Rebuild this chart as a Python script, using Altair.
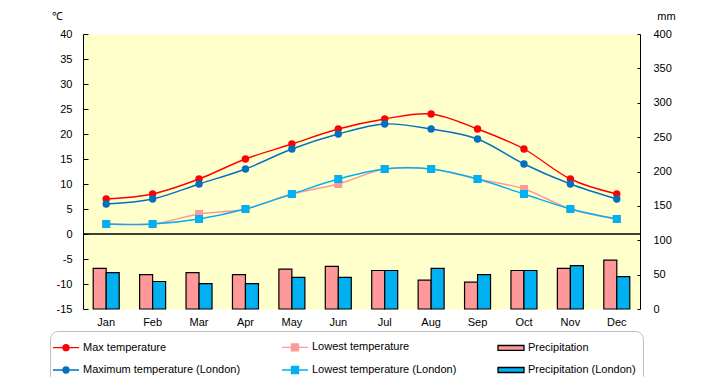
import altair as alt
import pandas as pd

FONT = "Liberation Sans"

months = ["Jan", "Feb", "Mar", "Apr", "May", "Jun", "Jul", "Aug", "Sep", "Oct", "Nov", "Dec"]
max_temp = [7, 8, 11, 15, 18, 21, 23, 24, 21, 17, 11, 8]
min_temp = [2, 2, 4, 5, 8, 10, 13, 13, 11, 9, 5, 3]
max_temp_london = [6, 7, 10, 13, 17, 20, 22, 21, 19, 14, 10, 7]
min_temp_london = [2, 2, 3, 5, 8, 11, 13, 13, 11, 8, 5, 3]
precip = [59, 50, 53, 50, 58, 62, 56, 42, 39, 56, 59, 71]
precip_london = [53, 40, 37, 37, 46, 46, 56, 59, 50, 56, 63, 47]

series_names = ["Max temperature", "Lowest temperature", "Precipitation",
                "Maximum temperature (London)", "Lowest temperature (London)", "Precipitation (London)"]
series_colors = ["#FF0000", "#FF9999", "#FF9999", "#0070C0", "#00B0F0", "#00B0F0"]
legend_strokes = ["#FF0000", "#FF9999", "#000000", "#0070C0", "#00B0F0", "#000000"]
series_values = [max_temp, min_temp, precip, max_temp_london, min_temp_london, precip_london]

CIRCLE_SYM = "M-1.625,0H1.625M-0.375,0A0.375,0.375 0 1,0 0.375,0A0.375,0.375 0 1,0 -0.375,0"
SQUARE_SYM = "M-1.625,0H1.625M-0.44,-0.44H0.44V0.44H-0.44Z"
BAR_SYM = "M-1.625,-0.31H1.625V0.31H-1.625Z"
legend_shapes = [CIRCLE_SYM, SQUARE_SYM, BAR_SYM, CIRCLE_SYM, SQUARE_SYM, BAR_SYM]

rows = []
for name, vals in zip(series_names, series_values):
    for m, v in zip(months, vals):
        rows.append({"month": m, "series": name, "value": v})
df = pd.DataFrame(rows)

color_scale = alt.Scale(domain=series_names, range=series_colors)
color_enc = alt.Color("series:N", scale=color_scale, legend=None)

legend = alt.Legend(
    title=None, orient="none", legendX=-33, legendY=297,
    direction="horizontal", columns=3, columnPadding=38, rowPadding=7,
    gridAlign="each", symbolSize=256, labelOffset=8, labelFont=FONT,
    labelFontSize=11, labelColor="black", labelLimit=300, padding=7,
    strokeColor="#BFBFBF", cornerRadius=8, fillColor="white",
    symbolOpacity=1, symbolStrokeWidth=1.3,
)

x_enc = alt.X("month:N", sort=months,
              scale=alt.Scale(paddingInner=0.44, paddingOuter=0.22),
              axis=alt.Axis(title=None, domain=False, ticks=False, labelAngle=0,
                            labelPadding=7, labelFontSize=11, labelFont=FONT,
                            labelColor="black"))

left_axis = alt.Axis(orient="left", values=list(range(-15, 41, 5)), title="℃",
                     titleAngle=0, titleX=-26, titleY=-18, titleAlign="center",
                     titleBaseline="middle", titleFontWeight="normal", titleFontSize=11,
                     titleFont=FONT, titleColor="black", grid=False, domainColor="black",
                     tickColor="black", tickSize={"expr": "-5"}, labelPadding=16,
                     labelFontSize=11, labelFont=FONT, labelColor="black",
                     labelExpr="'' + datum.value")

right_axis = alt.Axis(orient="right", values=list(range(0, 401, 50)), title="mm",
                      titleAngle=0, titleX=26, titleY=-18, titleAlign="center",
                      titleBaseline="middle", titleFontWeight="normal", titleFontSize=11,
                      titleFont=FONT, titleColor="black", grid=False, domainColor="black",
                      tickColor="black", tickSize={"expr": "-3"}, labelPadding=16,
                      labelFontSize=11, labelFont=FONT, labelColor="black")

temp_scale = alt.Scale(domain=[-15, 40], nice=False, zero=False)
temp_y = alt.Y("value:Q", scale=temp_scale, axis=left_axis)

# invisible layer that only carries the legend
legend_layer = alt.Chart(df).transform_filter("datum.value < -1000").mark_point(
    filled=True, opacity=1).encode(
    x=x_enc,
    fill=alt.Fill("series:N", scale=alt.Scale(domain=series_names, range=series_colors), legend=legend),
    stroke=alt.Stroke("series:N", scale=alt.Scale(domain=series_names, range=legend_strokes), legend=legend),
    shape=alt.Shape("series:N", scale=alt.Scale(domain=series_names, range=legend_shapes), legend=legend),
)

temp_layers = []
for name in ["Max temperature", "Lowest temperature",
             "Maximum temperature (London)", "Lowest temperature (London)"]:
    base = alt.Chart(df).transform_filter(alt.datum.series == name)
    temp_layers.append(
        base.mark_line(interpolate="cardinal", strokeWidth=1.4).encode(
            x=x_enc, y=temp_y, color=color_enc))
    if name.startswith("Lowest"):
        pts = base.mark_square(size=64, opacity=1)
    else:
        pts = base.mark_circle(size=55, opacity=1)
    temp_layers.append(pts.encode(x=x_enc, y=temp_y, color=color_enc))

zero_df = pd.DataFrame({"z": [0]})
zero_rule = alt.Chart(zero_df).mark_rule(color="black", strokeWidth=1.5).encode(
    y=alt.Y("z:Q", scale=temp_scale, axis=left_axis))

temp_chart = alt.layer(zero_rule, *temp_layers)

bars = alt.Chart(df).transform_filter(
    alt.FieldOneOfPredicate(field="series", oneOf=["Precipitation", "Precipitation (London)"])
).mark_bar(stroke="black", strokeWidth=1.2, opacity=1).encode(
    x=x_enc,
    xOffset=alt.XOffset("series:N", sort=["Precipitation", "Precipitation (London)"]),
    y=alt.Y("value:Q", scale=alt.Scale(domain=[0, 400], nice=False), axis=right_axis),
    color=color_enc,
)

chart = alt.layer(legend_layer, bars, temp_chart).resolve_scale(y="independent").properties(
    width=557, height=275,
    padding={"left": 75, "top": 26, "right": 72, "bottom": 68},
    autosize=alt.AutoSizeParams(type="none"),
).configure_view(fill="#FFFFCC", stroke="transparent")

chart.save("out.html", embed_options={"renderer": "svg", "actions": False})
